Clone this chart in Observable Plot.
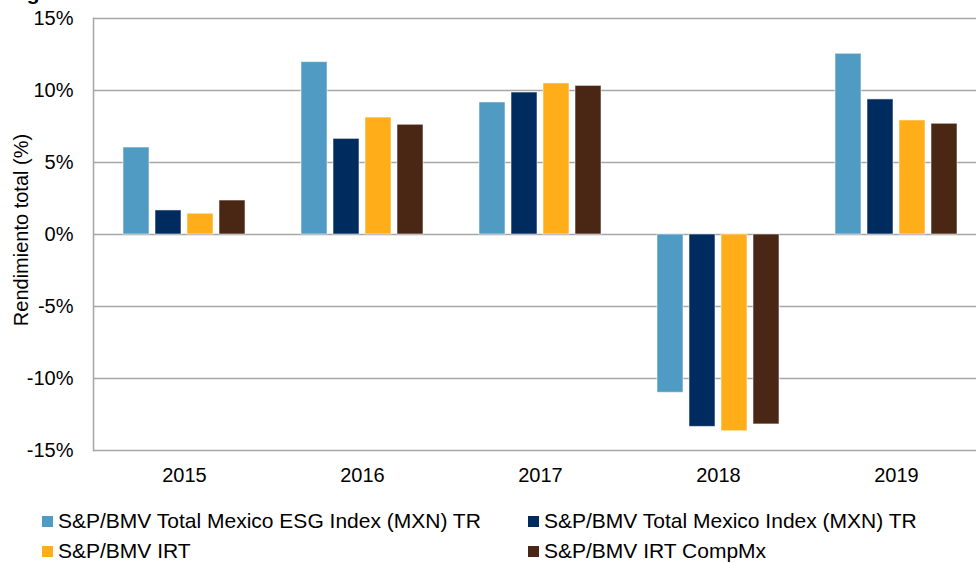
<!DOCTYPE html>
<html>
<head>
<meta charset="utf-8">
<script src="https://cdn.jsdelivr.net/npm/d3@7"></script>
<script src="https://cdn.jsdelivr.net/npm/@observablehq/plot@0.6"></script>
<style>
  html, body { margin: 0; padding: 0; background: #fff; }
  #wrap { position: relative; width: 976px; height: 563px; overflow: hidden; font-family: "Liberation Sans", Arial, sans-serif; color: #000; }
  #title { position: absolute; left: 8px; top: -19px; font-size: 21px; font-weight: bold; line-height: 24px; white-space: nowrap; }
  .layer { position: absolute; left: 0; top: 0; }
  .legend { position: absolute; font-size: 21px; line-height: 24px; white-space: nowrap; display: flex; align-items: center; }
  .legend .sw { width: 11px; height: 11px; margin-right: 5px; display: inline-block; }
</style>
</head>
<body>
<div id="wrap">
  <div id="title">Figura 3: Rendimientos totales en años calendario</div>
  <div id="back" class="layer"></div>
  <div id="front" class="layer"></div>
  <div id="legend"></div>
</div>
<script>
const years = ["2015", "2016", "2017", "2018", "2019"];
const seriesNames = [
  "S&P/BMV Total Mexico ESG Index (MXN) TR",
  "S&P/BMV Total Mexico Index (MXN) TR",
  "S&P/BMV IRT",
  "S&P/BMV IRT CompMx"
];
const esgValues    = [6.04, 11.97, 9.17, -10.99, 12.55];
const tmiValues    = [1.67, 6.64, 9.86, -13.36, 9.38];
const irtValues    = [1.44, 8.12, 10.49, -13.66, 7.92];
const compMxValues = [2.36, 7.62, 10.32, -13.19, 7.69];
const seriesColors = ["#4f9bc4", "#002b5e", "#ffad18", "#4a2615"];
const yTicks = [-15, -10, -5, 0, 5, 10, 15];
const yLabel = "Rendimiento total (%)";

const allValues = [esgValues, tmiValues, irtValues, compMxValues];
const data = [];
years.forEach((yr, i) => {
  seriesNames.forEach((s, j) => {
    data.push({year: yr, series: s, value: allValues[j][i]});
  });
});

const common = {
  width: 976,
  height: 490,
  marginLeft: 93,
  marginTop: 18,
  marginBottom: 40,
  style: {fontFamily: "'Liberation Sans', Arial, sans-serif", fontSize: "20px", color: "#000", background: "transparent", overflow: "visible"},
  y: {domain: [-15, 15], label: null}
};

// background: gridlines, left axis line, y ticks
const back = Plot.plot({
  ...common,
  marginRight: 0,
  marks: [
    Plot.ruleY(yTicks, {stroke: "#a6a6a6", strokeWidth: 1.5}),
    Plot.frame({anchor: "left", stroke: "#a6a6a6", strokeWidth: 1.5}),
    Plot.axisY(yTicks, {tickFormat: d => d + "%", tickSize: 0, tickPadding: 20, fontSize: 20, label: null})
  ]
});
document.getElementById("back").appendChild(back);

d3.select(back).append("text")
  .attr("transform", "translate(28,230) rotate(-90)")
  .attr("text-anchor", "middle")
  .attr("font-size", 20)
  .attr("font-family", "'Liberation Sans', Arial, sans-serif")
  .attr("fill", "#000")
  .text(yLabel);

// foreground: grouped bars (category area runs slightly past the right edge, as in the reference)
const front = Plot.plot({
  ...common,
  marginRight: -11.5,
  fx: {domain: years, paddingInner: 0.3125, paddingOuter: 0.156, label: null},
  x: {domain: seriesNames, paddingInner: 0.2, paddingOuter: 0, axis: null},
  color: {domain: seriesNames, range: seriesColors},
  marks: [
    Plot.barY(data, {fx: "year", x: "series", y: "value", fill: "series", stroke: "white", strokeOpacity: 0.55, strokeWidth: 1}),
    Plot.axisFx({anchor: "bottom", tickSize: 0, tickPadding: 17, fontSize: 20, label: null})
  ]
});
d3.select(front).selectAll("[aria-label='y-axis tick'], [aria-label='y-axis tick label'], [aria-label='y-axis label']").remove();
document.getElementById("front").appendChild(front);

// legend
const legendPos = [[42, 509], [528, 509], [42, 539], [528, 539]];
const legend = document.getElementById("legend");
seriesNames.forEach((s, i) => {
  const d = document.createElement("div");
  d.className = "legend";
  d.style.left = legendPos[i][0] + "px";
  d.style.top = legendPos[i][1] + "px";
  const sw = document.createElement("span");
  sw.className = "sw";
  sw.style.background = seriesColors[i];
  d.appendChild(sw);
  d.appendChild(document.createTextNode(s));
  legend.appendChild(d);
});
</script>
</body>
</html>
